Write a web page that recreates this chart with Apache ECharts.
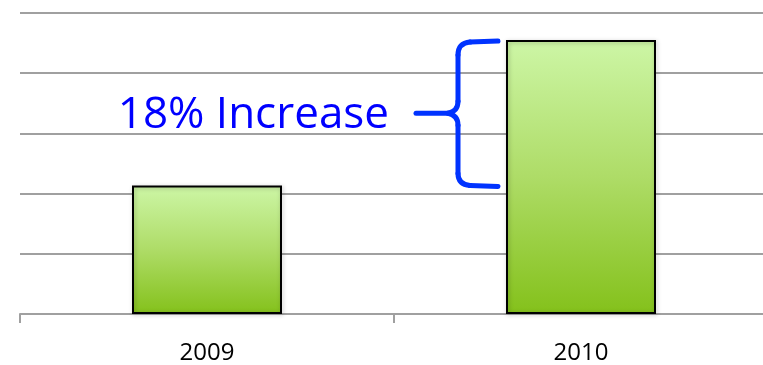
<!DOCTYPE html>
<html>
<head>
<meta charset="utf-8">
<script src="https://cdn.jsdelivr.net/npm/echarts@6/dist/echarts.min.js"></script>
<style>
html,body{margin:0;padding:0;background:#fff;overflow:hidden;}
#chart{width:772px;height:365px;}
</style>
</head>
<body>
<div id="chart"></div>
<script>
const categories = ['2009', '2010'];
const values = [42.7, 91.0];
const annotationText = '18% Increase';

const chart = echarts.init(document.getElementById('chart'), null, {renderer: 'canvas'});
const option = {
  animation: false,
  grid: {left: 20, width: 748, top: 13, height: 302, containLabel: false},
  xAxis: {
    type: 'category',
    data: categories,
    axisLine: {lineStyle: {color: '#a0a0a0', width: 2}},
    axisTick: {show: true, length: 9, lineStyle: {color: '#a0a0a0', width: 2}},
    axisLabel: {color: '#000', fontSize: 24, fontFamily: 'Open Sans', margin: 27}
  },
  yAxis: {
    type: 'value', min: 0, max: 100, interval: 20,
    axisLabel: {show: false},
    axisLine: {show: false},
    axisTick: {show: false},
    splitLine: {lineStyle: {color: '#a0a0a0', width: 2}}
  },
  series: [{
    type: 'bar',
    data: values,
    barWidth: 150,
    itemStyle: {
      borderColor: '#000',
      borderWidth: 2,
      shadowColor: 'rgba(0,0,0,0.25)',
      shadowBlur: 4,
      shadowOffsetX: 1,
      shadowOffsetY: 1,
      color: new echarts.graphic.LinearGradient(0, 0, 0, 1, [
        {offset: 0, color: '#cdf6a6'},
        {offset: 0.5, color: '#aedc67'},
        {offset: 1, color: '#84c11b'}
      ])
    }
  }]
};
chart.setOption(option);

// Build brace annotation from data positions
const pTop = chart.convertToPixel({seriesIndex: 0}, [1, values[1]]);
const pLow = chart.convertToPixel({seriesIndex: 0}, [0, values[0]]);
const xr = pTop[0] - 83;   // brace right end (just left of 2010 bar)
const xv = xr - 40;        // brace vertical stroke
const xt = xv - 42;        // brace tip
const yt = pTop[1] + 1;
const yb = pLow[1];
const ym = (yt + yb) / 2;
const braceStyle = {stroke: '#0033ff', lineWidth: 5, lineCap: 'round', fill: null};
function seg(x1, y1, x2, y2) {
  return {type: 'line', shape: {x1: x1, y1: y1, x2: x2, y2: y2}, style: braceStyle};
}
function curve(x1, y1, cx, cy, x2, y2) {
  return {type: 'bezierCurve', shape: {x1: x1, y1: y1, cpx1: cx, cpy1: cy, x2: x2, y2: y2}, style: braceStyle};
}
chart.setOption({
  graphic: [
    seg(xr, yt, xv + 12, yt + 1),
    curve(xv + 12, yt + 1, xv, yt + 2, xv, yt + 14),
    seg(xv, yt + 14, xv, ym - 12),
    curve(xv, ym - 12, xv, ym - 2, xv - 10, ym),
    seg(xv - 10, ym, xt, ym),
    curve(xv - 10, ym, xv, ym + 2, xv, ym + 12),
    seg(xv, ym + 12, xv, yb - 12),
    curve(xv, yb - 12, xv, yb - 1, xv + 12, yb),
    seg(xv + 12, yb, xr, yb + 1),
    {
      type: 'text',
      x: xt - 27, y: ym + 2,
      style: {
        text: annotationText, fill: '#0000ff', font: '44px "Open Sans"',
        textAlign: 'right', textVerticalAlign: 'middle'
      }
    }
  ]
});
</script>
</body>
</html>
